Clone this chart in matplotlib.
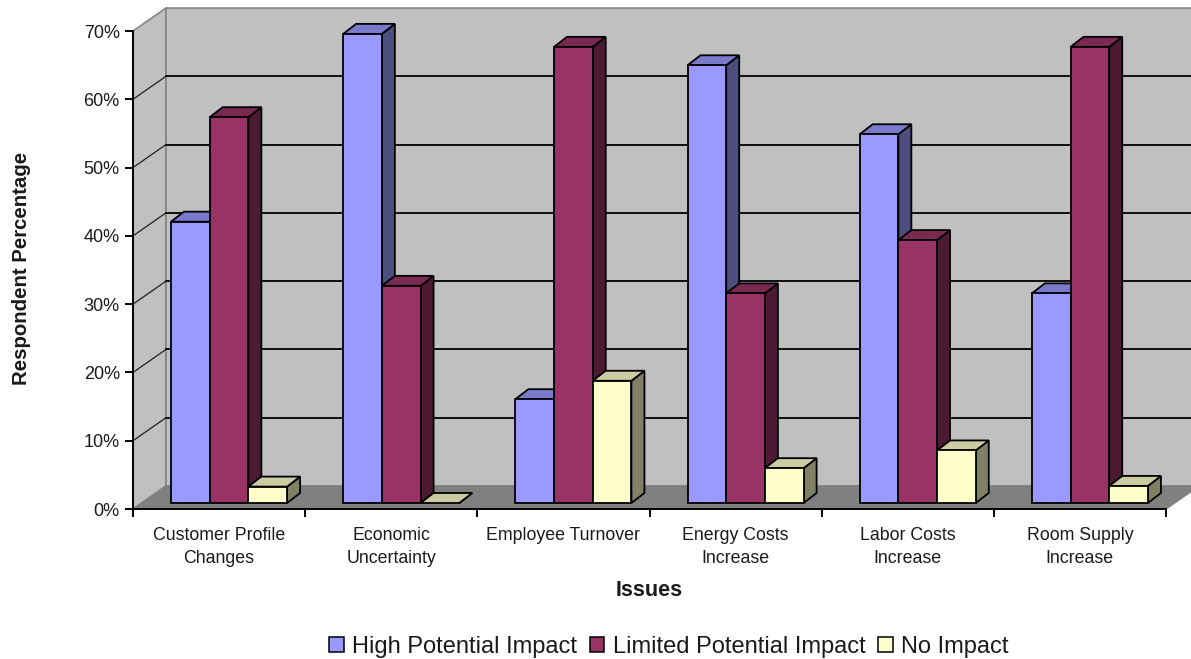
import matplotlib
matplotlib.use("Agg")
import matplotlib.pyplot as plt
from matplotlib.patches import Patch, Polygon

plt.rcParams['font.family'] = ['Liberation Sans', 'DejaVu Sans']

categories = ["Customer Profile\nChanges", "Economic\nUncertainty", "Employee Turnover",
              "Energy Costs\nIncrease", "Labor Costs\nIncrease", "Room Supply\nIncrease"]
series_names = ["High Potential Impact", "Limited Potential Impact", "No Impact"]
high_impact = [41.2, 68.7, 15.2, 64.1, 54.0, 30.7]
limited_impact = [56.5, 31.8, 66.8, 30.7, 38.5, 66.8]
no_impact = [2.4, 0.0, 17.9, 5.1, 7.7, 2.5]
pct_ticks = [0, 10, 20, 30, 40, 50, 60, 70]

fronts = ["#9999FF", "#993366", "#FFFFCC"]
sides = ["#4D4D80", "#4C1A33", "#808066"]
tops = ["#7A7ACC", "#7A2952", "#CCCCA3"]

W, H = 1191, 659
AX_L, AX_R, AX_BOTTOM, AX_TOP = 133, 1166, 509, 31
px_x = 6 / (AX_R - AX_L)                # data units per pixel, horizontal
px_y = 70 / (AX_BOTTOM - AX_TOP)        # data units per pixel, vertical

fig = plt.figure(figsize=(W / 100, H / 100), dpi=100, facecolor="white")
ax = fig.add_axes([AX_L / W, 1 - AX_BOTTOM / H, (AX_R - AX_L) / W, (AX_BOTTOM - AX_TOP) / H])
ax.set_xlim(0, 6)
ax.set_ylim(0, 70)
ax.patch.set_visible(False)


def poly(points, face, edge="black", lw=1.3, z=2):
    ax.add_patch(Polygon(points, closed=True, facecolor=face, edgecolor=edge,
                         linewidth=lw, zorder=z, clip_on=False, joinstyle="miter"))


# walls and floor of the 3d box
wall_dx, wall_dy = 33 * px_x, 23 * px_y
right = 6.3
poly([(0, 0), (wall_dx, wall_dy), (wall_dx, 70 + wall_dy), (0, 70)], "#C0C0C0", "#808080", lw=1.1, z=1)
poly([(wall_dx, wall_dy), (right, wall_dy), (right, 70 + wall_dy), (wall_dx, 70 + wall_dy)],
     "#C0C0C0", "#808080", lw=1.1, z=1)
poly([(0, 0), (6, 0), (6 + wall_dx, wall_dy), (wall_dx, wall_dy)], "#808080", "#808080", lw=1.1, z=1)

for v in pct_ticks[1:-1]:
    ax.plot([0, wall_dx], [v, v + wall_dy], color="#202020", lw=0.9, zorder=1.5, clip_on=False)
    ax.plot([wall_dx, right], [v + wall_dy, v + wall_dy], color="black", lw=1.3, zorder=1.5,
            clip_on=False)

# bars, back to front within each group
bar_w = 38.7 * px_x
bar_dx, bar_dy = 13 * px_x, 10 * px_y
start_x = 38 * px_x
base = 6 * px_y

for g in range(len(categories)):
    for s, values in enumerate([high_impact, limited_impact, no_impact]):
        v = values[g]
        x0 = g + start_x + s * bar_w
        x1 = x0 + bar_w
        y0, y1 = base, base + v
        poly([(x1, y0), (x1 + bar_dx, y0 + bar_dy), (x1 + bar_dx, y1 + bar_dy), (x1, y1)], sides[s])
        poly([(x0, y1), (x1, y1), (x1 + bar_dx, y1 + bar_dy), (x0 + bar_dx, y1 + bar_dy)], tops[s])
        if v > 0:
            poly([(x0, y0), (x1, y0), (x1, y1), (x0, y1)], fronts[s])

# axes
for name in ["top", "right"]:
    ax.spines[name].set_visible(False)
for name in ["left", "bottom"]:
    ax.spines[name].set_linewidth(1.4)
    ax.spines[name].set_zorder(5)
ax.set_yticks(pct_ticks)
ax.set_yticklabels([f"{v}%" for v in pct_ticks], fontsize=13, color="#1a1a1a")
ax.set_xticks(range(7))
ax.set_xticklabels([])
ax.tick_params(axis="both", length=5.5, width=1.4, color="black")
ax.tick_params(axis="y", pad=4)
ax.set_xticks([i + 0.5 for i in range(6)], minor=True)
ax.set_xticklabels(categories, minor=True, fontsize=12.8, linespacing=1.42, color="#1a1a1a")
ax.tick_params(axis="x", which="minor", length=0, pad=13)

fig.text(22 / W, 1 - 268 / H, "Respondent Percentage", rotation=90, ha="center", va="center",
         fontsize=14.7, fontweight="bold", color="#1a1a1a")
fig.text(649 / W, 1 - 590 / H, "Issues", ha="center", va="center", fontsize=15.5,
         fontweight="bold", color="#1a1a1a")

handles = [Patch(facecolor=fronts[i], edgecolor="black", linewidth=1.1) for i in range(3)]
fig.legend(handles, series_names, loc="center", bbox_to_anchor=(669 / W, 1 - 647 / H), ncol=3,
           frameon=False, fontsize=17, handlelength=0.6, handleheight=0.6, handletextpad=0.36,
           columnspacing=0.55, borderpad=0, labelcolor="#1a1a1a")

fig.savefig("out.png", dpi=100)
